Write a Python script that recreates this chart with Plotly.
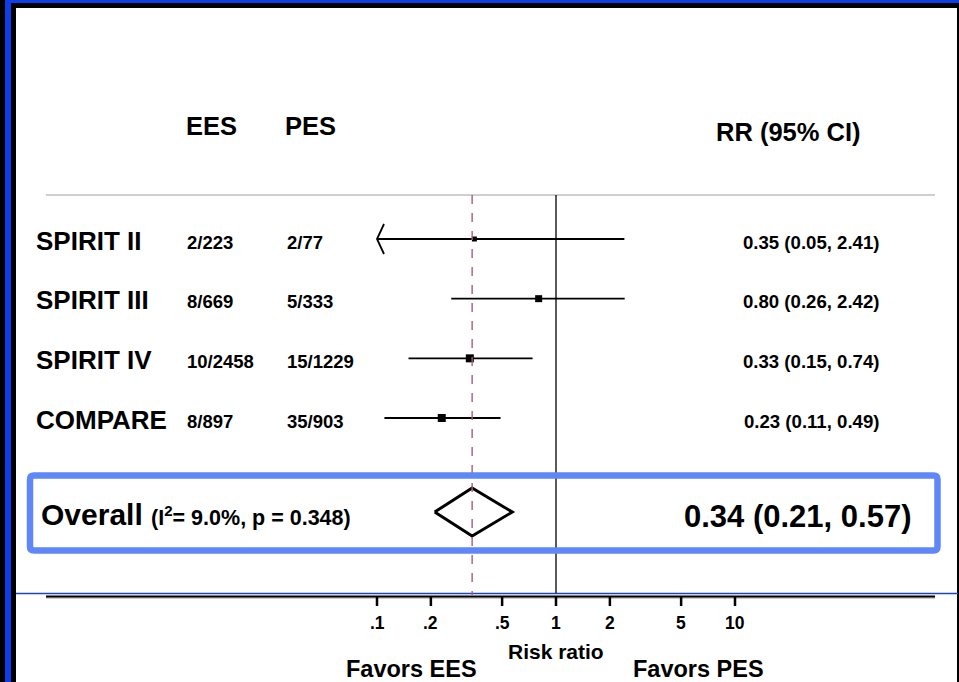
import math
import plotly.graph_objects as go

# ---------------- data ----------------
studies = ["SPIRIT II", "SPIRIT III", "SPIRIT IV", "COMPARE"]
ees_events = ["2/223", "8/669", "10/2458", "8/897"]
pes_events = ["2/77", "5/333", "15/1229", "35/903"]
rr = [0.35, 0.80, 0.33, 0.23]
rr_lo = [0.05, 0.26, 0.15, 0.11]
rr_hi = [2.41, 2.42, 0.74, 0.49]
overall_rr = 0.34
overall_lo = 0.21
overall_hi = 0.57
i2 = "9.0%"
p_het = "0.348"
tick_vals = [0.1, 0.2, 0.5, 1, 2, 5, 10]
tick_text = [".1", ".2", ".5", "1", "2", "5", "10"]

# ---------------- style / layout ----------------
W, H = 959, 682
FONT = "Liberation Sans, Arial, Helvetica, sans-serif"
box_sizes = [5, 7, 8, 8]
ROW_PX = 59.67          # pixels per row
ROW1_PX = 239           # pixel of first row
X1_PX = 556             # pixel of RR = 1
DEC_PX = 179            # pixels per decade
clip_min = 0.1          # left end of the display scale

def pxx(x):
    return x / W

def pxy(y):
    return 1 - y / H

def prow(y):
    # pixel row -> y-axis value
    return 1 + (y - ROW1_PX) / ROW_PX

x_range = [-X1_PX / DEC_PX, (W - X1_PX) / DEC_PX]
y_range = [prow(H), prow(0)]

rows = [1, 2, 3, 4]
overall_row = prow(512)

fig = go.Figure()

# CI lines and boxes
for r, est, lo, hi, s in zip(rows, rr, rr_lo, rr_hi, box_sizes):
    lo_c = max(lo, clip_min)
    fig.add_trace(go.Scatter(x=[lo_c, hi], y=[r, r], mode="lines",
                             line=dict(color="black", width=1.8),
                             hoverinfo="skip", showlegend=False))
    if lo < clip_min:
        ax = clip_min * 10 ** (7 / DEC_PX)
        dy = 15 / ROW_PX
        fig.add_trace(go.Scatter(x=[ax, clip_min, ax], y=[r - dy, r, r + dy],
                                 mode="lines", line=dict(color="black", width=1.8),
                                 hoverinfo="skip", showlegend=False))
    fig.add_trace(go.Scatter(x=[est], y=[r], mode="markers",
                             marker=dict(symbol="square", size=s, color="black",
                                         line=dict(width=0)),
                             hoverinfo="skip", showlegend=False))

# overall diamond
dh = 24 / ROW_PX
fig.add_trace(go.Scatter(
    x=[overall_lo, overall_rr, overall_hi, overall_rr, overall_lo],
    y=[overall_row, overall_row - dh, overall_row, overall_row + dh, overall_row],
    mode="lines", line=dict(color="black", width=3),
    hoverinfo="skip", showlegend=False))

shapes = []
# frame
shapes += [
    dict(type="rect", xref="paper", yref="paper", x0=pxx(0), x1=pxx(5), y0=0, y1=1,
         fillcolor="black", line=dict(width=0), layer="above"),
    dict(type="rect", xref="paper", yref="paper", x0=pxx(11), x1=pxx(16), y0=0, y1=pxy(3),
         fillcolor="black", line=dict(width=0), layer="above"),
    dict(type="rect", xref="paper", yref="paper", x0=pxx(11), x1=1, y0=pxy(8), y1=pxy(3),
         fillcolor="black", line=dict(width=0), layer="above"),
    dict(type="rect", xref="paper", yref="paper", x0=pxx(5), x1=pxx(11), y0=0, y1=1,
         fillcolor="#0d3ee8", line=dict(width=0), layer="above"),
    dict(type="rect", xref="paper", yref="paper", x0=pxx(5), x1=1, y0=pxy(3), y1=1,
         fillcolor="#0d3ee8", line=dict(width=0), layer="above"),
    dict(type="rect", xref="paper", yref="paper", x0=pxx(957), x1=1, y0=0, y1=pxy(8),
         fillcolor="black", line=dict(width=0), layer="above"),
]
# header separator
shapes.append(dict(type="line", xref="paper", yref="paper", x0=pxx(46), x1=pxx(935),
                   y0=pxy(195), y1=pxy(195), line=dict(color="#cfcfcf", width=2)))
# bottom lines
shapes.append(dict(type="line", xref="paper", yref="paper", x0=pxx(16), x1=pxx(958),
                   y0=pxy(593.5), y1=pxy(593.5), line=dict(color="#1b45c8", width=1.5)))
shapes.append(dict(type="line", xref="paper", yref="paper", x0=pxx(46), x1=pxx(935),
                   y0=pxy(598), y1=pxy(598), line=dict(color="#9a9a9a", width=1)))
shapes.append(dict(type="line", xref="paper", yref="paper", x0=pxx(46), x1=pxx(935),
                   y0=pxy(596.5), y1=pxy(596.5), line=dict(color="black", width=2)))
# null line and overall dashed line
shapes.append(dict(type="line", xref="x", yref="paper", x0=1, x1=1,
                   y0=pxy(195), y1=pxy(593), line=dict(color="black", width=1.3)))
shapes.append(dict(type="line", xref="x", yref="paper", x0=overall_rr, x1=overall_rr,
                   y0=pxy(195), y1=pxy(595), line=dict(color="#a8606c", width=1.4, dash="dash")))
# tick marks below the axis line
for tv in tick_vals:
    shapes.append(dict(type="line", xref="x", yref="paper", x0=tv, x1=tv,
                       y0=pxy(597), y1=pxy(606), line=dict(color="black", width=2.5)))

# overall highlight box (rounded)
bx0, bx1, by0, by1, rad = 30, 937.5, 475.5, 550.5, 4
def P(x, y):
    return f"{pxx(x):.5f},{pxy(y):.5f}"
path = (f"M {P(bx0 + rad, by0)} L {P(bx1 - rad, by0)} Q {P(bx1, by0)} {P(bx1, by0 + rad)} "
        f"L {P(bx1, by1 - rad)} Q {P(bx1, by1)} {P(bx1 - rad, by1)} "
        f"L {P(bx0 + rad, by1)} Q {P(bx0, by1)} {P(bx0, by1 - rad)} "
        f"L {P(bx0, by0 + rad)} Q {P(bx0, by0)} {P(bx0 + rad, by0)} Z")
shapes.append(dict(type="path", xref="paper", yref="paper", path=path,
                   line=dict(color="#5f87f7", width=6.5)))

ann = []
def text(x, y, s, size, xanchor="left", yref="paper", yshift=0):
    ann.append(dict(x=x, y=y, xref="paper", yref=yref, text=f"<b>{s}</b>",
                    showarrow=False, xanchor=xanchor, yanchor="middle", yshift=yshift,
                    font=dict(family=FONT, size=size, color="black")))

# headers
text(pxx(184), pxy(126), "EES", 25.5)
text(pxx(283), pxy(126), "PES", 25.5)
text(pxx(714), pxy(132), "RR (95% CI)", 25.5)

for r, name, e, pz, est, lo, hi in zip(rows, studies, ees_events, pes_events, rr, rr_lo, rr_hi):
    text(pxx(34), r, name, 26, yref="y", yshift=-1.5)
    text(pxx(185), r, e, 18.5, yref="y", yshift=-3)
    text(pxx(285), r, pz, 18.5, yref="y", yshift=-3)
    text(pxx(881), r, f"{est:.2f} ({lo:.2f}, {hi:.2f})", 18.6, xanchor="right", yref="y", yshift=-3)

# overall row
text(pxx(39), overall_row,
     f"Overall <span style='font-size:21.5px'>(I<sup>2</sup>= {i2}, p = {p_het})</span>",
     30, yref="y", yshift=-2)
text(pxx(914), overall_row, f"{overall_rr:.2f} ({overall_lo:.2f}, {overall_hi:.2f})",
     31, xanchor="right", yref="y", yshift=-4)

# tick labels, axis title and favours labels
for tv, tt in zip(tick_vals, tick_text):
    ann.append(dict(x=math.log10(tv), y=pxy(623), xref="x", yref="paper", text=f"<b>{tt}</b>",
                    showarrow=False, xanchor="center", yanchor="middle",
                    font=dict(family=FONT, size=17.5, color="black")))
text(pxx(556), pxy(651), "Risk ratio", 21, xanchor="center")
text(pxx(411), pxy(669), "Favors EES", 23.5, xanchor="center")
text(pxx(698), pxy(669), "Favors PES", 23.5, xanchor="center")

fig.update_layout(
    width=W, height=H,
    margin=dict(l=0, r=0, t=0, b=0),
    paper_bgcolor="white", plot_bgcolor="white",
    showlegend=False, hovermode=False,
    shapes=shapes, annotations=ann,
    xaxis=dict(type="log", range=x_range, domain=[0, 1], visible=False, fixedrange=True),
    yaxis=dict(range=y_range, visible=False, fixedrange=True),
)

fig.write_html("out.html", config={"displayModeBar": False},
               post_script="document.body.style.margin='0';document.body.style.overflow='hidden';")
